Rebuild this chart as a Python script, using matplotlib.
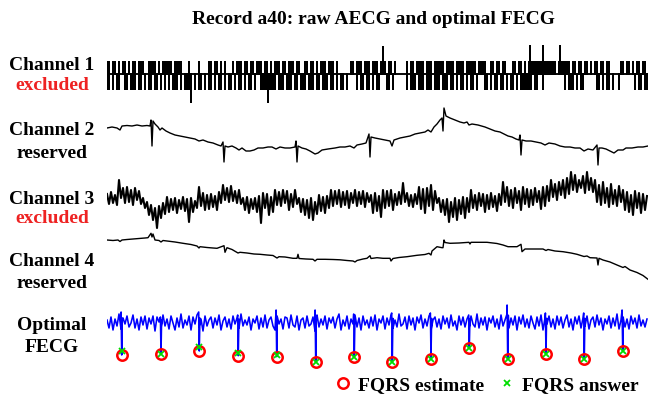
import numpy as np
import matplotlib
matplotlib.use("Agg")
import matplotlib.pyplot as plt

# ---------------- data ----------------
# Channel 1: saturated/clipped trace; per 2-px column, does the trace reach the high / low level
ch1_top = ("11011" "010" "11010" "110111" "001" "1110" "10111" "1101111" "000" "10" "000" "10"
           "000" "110110101" "000" "10111" "01101101" "110110" "1011101101110110" "0110"
           "1101011" "10111010" "00000" "1101110111011101"
           "11011010" "0000" "10110" "11110111011111011110111101111101111" "00" "11011011"
           "000" "1101101011" "11111011111101111110" "11011011010110110110" "0000"
           "110110101101101")
ch1_bot = ("1101011" "00" "1101" "11011" "010" "1101101" "010" "101" "1101" "0111" "1010"
           "11010" "1101011010110101101011010" "0111111" "110111011101101110111011011101"
           "10101101" "0000" "101101101011"
           "000" "1101" "000000" "101" "11011101110111011101" "1010110101101" "000"
           "1101011011010110101" "1111101" "1001000" "0000000" "101" "11010110" "00000"
           "1101011" "0100100" "00000" "1011011")
ch1_levels = [13, 0, -16]            # high, mid, low
ch1_spike_t = [84, 161, 276, 423, 436, 453]
ch1_spike_v = [-29, -29, 28, 29, 29, 29]

# Channel 2
ch2_t = [0,5,10,13,15,20,25,30,35,40,43,44,45,46,48,51,53,55,59,63,68,73,78,83,88,92,96,101,106,111,
         114,116,117,118,121,125,129,132,135,139,143,147,151,156,161,165,169,173,178,183,188,189,190,191,
         195,199,203,208,211,215,221,228,233,238,243,247,250,255,259,262,263,264,268,273,278,283,285,287,
         293,298,303,308,313,318,321,324,327,330,333,335,336,337,339,343,348,353,357,360,362,365,371,378,
         383,388,393,397,401,405,409,412,413,414,415,419,424,429,434,438,442,448,453,458,463,468,473,477,
         481,486,490,491,492,495,499,503,507,511,516,519,525,531,536,541]
ch2_v = [12,13,12,10,14,14.5,14,15,14,14.5,14,20,-6,19,16,13,10,12,9,7,5,4,3,2,1,-1,0,-2,-3,-5,
         -6,-2,-22,-6,-7,-6,-8,-10,-8,-11,-11,-10,-8,-8,-7,-7,-9,-7,-8,-8,-7,-1,-22,-6,
         -8,-9,-11,-14,-13,-10,-9,-8,-7,-7,-6,-8,-5,-4,-3,6,-17,3,2,1,0,-1,-6,0,
         2,3,4,6,7,8,10,8,13,16,20,22,9,32,24,22,20,18,17,18,15,16,15,13,
         11,9,8,6,4,3,1,0,5,-15,0,-1,-1,-2,-3,-5,-3,-4,-6,-7,-7,-8,-8,-11,
         -9,-10,-5,-25,-8,-8,-9,-11,-13,-10,-10,-8,-8,-7,-7,-6]

# Channel 3 (noisy), one value per 2 px
ch3_v = [6,-4,8,-3,5,-5,20,2,12,-3,
         13,-2,10,-5,12,0,9,-4,2,-8,
         -2,-15,-5,-20,-8,-28,-6,-18,-3,-14,
         3,-12,1,-10,2,-13,0,-9,3,-11,
         1,-22,2,-12,-1,-8,13,-6,7,-10,
         5,-9,6,-7,4,-10,8,-3,15,0,
         12,-2,14,-1,9,-3,10,-4,2,-10,
         3,-13,1,-9,2,-12,4,-23,7,-8,
         6,-15,3,-12,10,-5,8,-6,10,-3,
         9,-10,6,-7,10,-4,2,-12,1,-15,
         0,-18,2,-20,-2,-14,5,-11,3,-13,
         4,-8,10,-6,9,-4,10,-7,8,-5,
         9,-8,7,-3,10,-6,8,-4,9,-7,
         7,-2,5,-13,7,-11,4,-17,10,-8,
         9,-6,10,-10,6,-5,8,-4,17,-2,
         7,-6,5,-7,6,-4,13,-9,11,-13,
         12,-6,15,-10,9,-3,2,-12,0,-15,
         1,-22,-2,-17,2,-20,0,-14,3,-18,
         2,-12,10,-8,5,-10,7,-6,6,-12,
         5,-9,7,-7,4,-11,6,-5,18,-2,
         13,-6,10,-8,12,-3,9,-10,13,-4,
         11,-7,10,-5,12,-2,9,-9,13,-6,
         14,-1,20,3,16,0,18,5,20,2,
         22,6,28,10,25,8,20,12,24,7,
         28,10,22,8,20,-2,15,-5,18,-3,
         12,-7,16,-4,10,-6,14,-2,10,-10,
         8,-12,5,-15,9,-8,7,-13,6,-10,
         4]

# Channel 4
ch4_t = [0,6,11,13,15,20,26,32,38,41,44,45,46,48,52,54,56,60,68,76,84,90,92,93,100,106,110,117,118,120,
         125,131,133,140,147,153,160,166,170,172,178,186,190,191,192,199,206,208,210,218,226,233,240,246,
         248,250,256,260,263,264,270,276,283,284,286,292,300,310,318,322,324,325,330,335,336,337,338,343,
         352,362,363,364,372,380,390,396,401,410,414,415,418,425,436,439,441,448,456,464,470,477,480,483,
         490,491,492,496,503,510,516,518,523,530,536,541]
ch4_v = [10,9.5,10,8.5,10,10.5,11,11.5,12,12.3,16.7,13,16,10,9.5,8,9.5,9,8,6.7,5.5,4,2,3.3,2.5,2,1.7,4.3,-2.3,2.3,
         0.5,-3,-2.3,-3,-4,-4.3,-5,-5.5,-8,-6.7,-7,-8.3,-8.3,-4.3,-8.5,-9,-9.3,-11,-9.3,-9.3,-9.5,-9.8,-10.5,-11,
         -12,-10.5,-9,-8.3,-5.7,-8.5,-7.7,-8.3,-8.3,-11,-8.5,-7.5,-6.7,-5.3,-4.5,-3.3,-5,-1,3.3,2.3,2.3,10,7.5,6.7,
         7,7.7,6,7.7,7.7,7.7,6.5,5,3.3,3.3,5.7,-1.7,1,1,1,-0.5,0.5,-1,-1.7,-3,-4.3,-6.5,-6,-7.7,
         -8,-15,-8.3,-10,-12,-15,-17.5,-16.5,-20,-22.5,-25.5,-29.3]

# Optimal FECG (background, one value per 2 px) and fetal QRS spikes
fecg_v = [2,-6,5,-8,3,-4,8,-7,4,-2,
          6,-5,-1,7,-6,3,-8,5,-3,6,
          -7,4,-2,6,-9,5,0,-6,7,-4,
          3,-7,6,-1,-8,4,-5,8,-6,2,
          -3,6,-8,5,-2,7,-5,3,-9,6,
          -4,2,5,-6,4,-3,7,-8,1,5,
          -5,3,-7,6,-2,4,-6,8,-4,2,
          -3,5,-8,3,-1,6,-7,4,-5,7,
          -6,2,5,-4,-8,6,-2,3,-7,5,
          4,-6,7,-3,-5,6,-8,2,4,-6,
          6,-4,-2,5,-9,7,-5,3,-3,6,
          -7,4,-1,5,-6,3,8,-8,2,-4,
          6,-7,3,-2,7,-5,4,-8,6,-3,
          2,-6,5,-4,7,-8,3,-1,6,-7,
          4,-3,7,-6,2,-5,8,-4,-2,5,
          -7,6,-3,4,-8,5,-1,7,-6,3,
          -4,6,-8,2,5,-5,3,-7,6,-2,
          4,-6,7,-4,1,-8,6,-3,5,-5,
          3,-7,6,-2,-5,8,-6,4,-3,5,
          -8,4,-1,6,-5,3,-7,7,-4,2,
          8,-6,4,-3,6,-8,5,-2,7,-5,
          3,-6,6,-1,-7,5,-4,7,-8,4,
          -2,6,-5,3,-7,6,-3,5,-6,2,
          7,-5,3,-8,5,-2,6,-6,4,-4,
          6,-7,2,5,-5,7,-3,4,-8,3,
          -2,6,-6,4,-4,8,-7,2,5,-5,
          3,-7,6,-2,4,-6,7,-4,2,-5,
          3]
fqrs_t = [14.7, 54, 92.3, 131.3, 169.7, 208.7, 247.3, 285.3, 324, 362.3, 400.7, 439, 477.3, 515.7]
fqrs_v = [-33, -32.3, -29, -33.7, -34.7, -40.3, -35.3, -40.3, -37, -26.3, -37.3, -32.3, -37, -28.7]
fqrs_up = [10, 5, 10, 7, 12, 12, 8, 9, 9, 7, 17, 9, 9, 12]
ans_t = [15, 54, 92, 131, 170, 209, 247, 285, 324, 362, 401, 439, 477, 516]
ans_v = [-29, -32, -25, -31, -33, -40, -35, -40, -37, -26, -37, -32, -37, -28.7]

row_names = ["Channel 1", "Channel 2", "Channel 3", "Channel 4", "Optimal"]
row_status = ["excluded", "reserved", "excluded", "reserved", "FECG"]
title = "Record a40: raw AECG and optimal FECG"
legend_labels = ["FQRS estimate", "FQRS answer"]

# ---------------- figure ----------------
W, H = 648, 398
fig = plt.figure(figsize=(W / 100, H / 100), dpi=100)
SERIF = ["Liberation Serif", "DejaVu Serif"]
XL, XR = 107, 648


def band_axes(top_px, bot_px, center_px):
    ax = fig.add_axes([XL / W, 1 - bot_px / H, (XR - XL) / W, (bot_px - top_px) / H])
    ax.set_xlim(0, XR - XL)
    ax.set_ylim(center_px - bot_px, center_px - top_px)
    ax.axis("off")
    ax.patch.set_alpha(0)
    return ax


def merge_columns(cols):
    cols.sort(key=lambda c: c[0][0])
    arr = np.array([p for c in cols for p in c], dtype=float)
    return arr[:, 0], arr[:, 1]


# Channel 1
ax1 = band_axes(38, 110, 74)
n = min(len(ch1_top), len(ch1_bot))
col_t = np.linspace(0, 540, n)
hi, mid, lo = ch1_levels
cols = []
for i in range(n):
    t = col_t[i]
    c = [(t, mid)]
    if ch1_top[i] == "1":
        c += [(t, hi), (t, mid)]
    if ch1_bot[i] == "1":
        c += [(t, lo), (t, mid)]
    cols.append(c)
for t, v in zip(ch1_spike_t, ch1_spike_v):
    cols.append([(t, mid), (t, v), (t, mid)])
x1, y1 = merge_columns(cols)
ax1.plot(x1, y1, color="black", lw=1.35, solid_joinstyle="miter")

# Channel 2
ax2 = band_axes(100, 172, 140)
ax2.plot(ch2_t, ch2_v, color="black", lw=1.0)

# Channel 3
ax3 = band_axes(165, 235, 200)
ax3.plot(np.linspace(0, 540, len(ch3_v)), ch3_v, color="black", lw=1.5)

# Channel 4
ax4 = band_axes(222, 292, 250)
ax4.plot(ch4_t, ch4_v, color="black", lw=1.0)

# Optimal FECG
ax5 = band_axes(300, 372, 322)
fe_t = np.linspace(0, 540, len(fecg_v))
cols = [[(t, v)] for t, v in zip(fe_t, fecg_v)]
for bt, up, dn in zip(fqrs_t, fqrs_up, fqrs_v):
    cols.append([(bt - 0.6, up), (bt, dn), (bt + 0.6, up * 0.4)])
x5, y5 = merge_columns(cols)
ax5.plot(x5, y5, color="#0000ff", lw=1.15)
est, = ax5.plot(fqrs_t, fqrs_v, linestyle="none", marker="o", ms=7.5, mfc="none",
                mec="#ff0000", mew=1.8, clip_on=False)
ans, = ax5.plot(ans_t, ans_v, linestyle="none", marker="x", ms=4, mec="#00dd00",
                mew=1.3, clip_on=False)

# Text
fig.text(373 / W, 1 - 19 / H, title, ha="center", va="center", fontsize=14,
         fontweight="bold", family=SERIF)
name_y = [66, 131, 200, 261, 325]
status_y = [85, 153, 218, 283, 347]
for nm, st, ny, sy in zip(row_names, row_status, name_y, status_y):
    fig.text(52 / W, 1 - ny / H, nm, ha="center", va="center", fontsize=14,
             fontweight="bold", family=SERIF, color="black")
    fig.text(52 / W, 1 - sy / H, st, ha="center", va="center", fontsize=14,
             fontweight="bold", family=SERIF,
             color="#ee2222" if st == "excluded" else "black")

fig.legend([est, ans], legend_labels, loc="center left", bbox_to_anchor=(333 / W, 1 - 385 / H),
           ncol=2, frameon=False, borderpad=0, borderaxespad=0, handlelength=1.0,
           handletextpad=0.3, columnspacing=0.65,
           prop=dict(family=SERIF, weight="bold", size=14))

fig.savefig("out.png", dpi=100)
